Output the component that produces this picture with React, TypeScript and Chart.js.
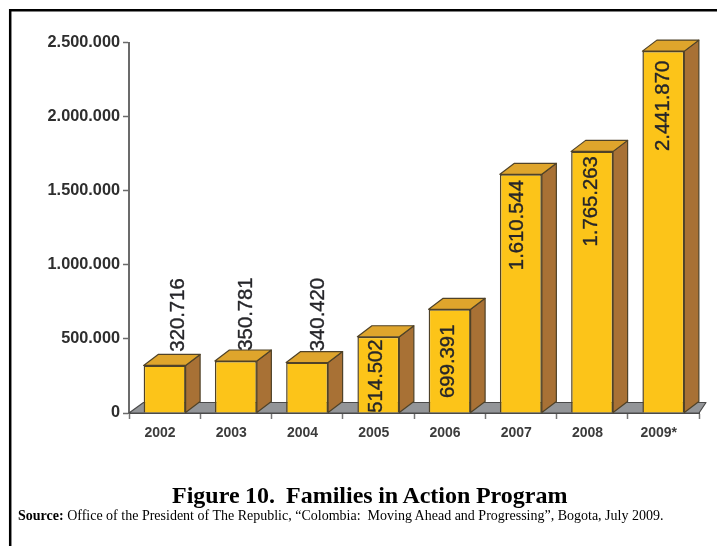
import React, { useEffect, useRef } from "react";
import { Chart, registerables } from "chart.js";

Chart.register(...registerables);

const categories = ["2002", "2003", "2004", "2005", "2006", "2007", "2008", "2009*"];
const families = [320716, 350781, 340420, 514502, 699391, 1610544, 1765263, 2441870];
const valueLabels = ["320.716", "350.781", "340.420", "514.502", "699.391", "1.610.544", "1.765.263", "2.441.870"];
const yTickValues = [0, 500000, 1000000, 1500000, 2000000, 2500000];
const yTickLabels = ["0", "500.000", "1.000.000", "1.500.000", "2.000.000", "2.500.000"];
const titleText = "Figure 10.  Families in Action Program";
const sourceLead = "Source:";
const sourceText = " Office of the President of The Republic, \u201cColombia:  Moving Ahead and Progressing\u201d, Bogota, July 2009.";

const labelShiftX = [13.4, 10.1, 11.4, -2.4, -1.1, -3.2, -1.1, -0.4];
const labelShiftY = [-50.5, -47, -48, 39.3, 51.9, 50.7, 50, 54.8];

const DEPTH_X = 14.5;
const DEPTH_Y = 11;

const poly = (ctx: CanvasRenderingContext2D, pts: number[][], fill: string, stroke: string, lw: number) => {
  ctx.beginPath();
  pts.forEach((p, i) => (i ? ctx.lineTo(p[0], p[1]) : ctx.moveTo(p[0], p[1])));
  ctx.closePath();
  ctx.fillStyle = fill;
  ctx.fill();
  if (lw > 0) {
    ctx.strokeStyle = stroke;
    ctx.lineWidth = lw;
    ctx.lineJoin = "round";
    ctx.stroke();
  }
};

const framePlugin = {
  id: "frame",
  beforeDraw(chart: any) {
    const c = chart.ctx as CanvasRenderingContext2D;
    c.save();
    c.fillStyle = "#ffffff";
    c.fillRect(0, 0, chart.width, chart.height);
    c.strokeStyle = "#000000";
    c.lineWidth = 2.5;
    c.beginPath();
    c.moveTo(10.2, chart.height);
    c.lineTo(10.2, 10.2);
    c.lineTo(chart.width, 10.2);
    c.stroke();
    c.restore();
  },
};

const floorPlugin = {
  id: "floor",
  beforeDatasetsDraw(chart: any) {
    const { left, right, bottom } = chart.chartArea;
    const c = chart.ctx as CanvasRenderingContext2D;
    c.save();
    poly(
      c,
      [
        [left, bottom],
        [left + DEPTH_X, bottom - DEPTH_Y + 0.5],
        [right + 7, bottom - DEPTH_Y + 0.5],
        [right, bottom],
      ],
      "#939598",
      "#4a4a4a",
      1.2
    );
    c.restore();
  },
};

const box3dPlugin = {
  id: "box3d",
  afterDatasetsDraw(chart: any) {
    const c = chart.ctx as CanvasRenderingContext2D;
    const meta = chart.getDatasetMeta(0);
    c.save();
    const edge = "#4f4228";
    meta.data.forEach((bar: any) => {
      const p = bar.getProps(["x", "y", "base", "width"], true);
      const l = p.x - p.width / 2;
      const r = p.x + p.width / 2;
      const t = p.y;
      const b = p.base;
      poly(c, [[r, t], [r + DEPTH_X, t - DEPTH_Y], [r + DEPTH_X, b - DEPTH_Y], [r, b]], "#a87135", edge, 1.2);
      poly(c, [[l, t], [l + DEPTH_X, t - DEPTH_Y], [r + DEPTH_X, t - DEPTH_Y], [r, t]], "#dfa52c", edge, 1.2);
    });
    c.fillStyle = "#26262a";
    c.strokeStyle = "#26262a";
    c.lineWidth = 0.35;
    c.font = "20.3px 'Liberation Sans'";
    c.textAlign = "center";
    c.textBaseline = "middle";
    meta.data.forEach((bar: any, i: number) => {
      const p = bar.getProps(["x", "y"], true);
      c.save();
      c.translate(p.x + labelShiftX[i], p.y + labelShiftY[i]);
      c.rotate(-Math.PI / 2);
      c.fillText(valueLabels[i], 0, 0);
      c.strokeText(valueLabels[i], 0, 0);
      c.restore();
    });
    c.restore();
  },
};

export default function App() {
  const ref = useRef<HTMLCanvasElement>(null);
  useEffect(() => {
    const chart = new Chart(ref.current!, {
      type: "bar",
      data: {
        labels: categories,
        datasets: [
          {
            data: families,
            backgroundColor: "#fcc419",
            borderColor: "#4f4228",
            borderWidth: 1.5,
            barPercentage: 0.589,
            categoryPercentage: 1,
          },
        ],
      },
      options: {
        animation: false,
        responsive: false,
        layout: { padding: { top: 42.5, right: 18, left: 0, bottom: 0 } },
        plugins: { legend: { display: false }, tooltip: { enabled: false }, title: { display: false } },
        scales: {
          x: {
            border: { color: "#4a4a4a", width: 2 },
            grid: { drawOnChartArea: false, drawTicks: true, tickLength: 6, tickColor: "#777777", tickWidth: 1.5 },
            ticks: {
              color: "#3c3c3c",
              font: { family: "'Liberation Sans'", size: 14, weight: "bold" },
              padding: 6,
              labelOffset: -4.6,
              maxRotation: 0,
              autoSkip: false,
            },
            afterFit(s: any) {
              s.height = 133;
            },
          },
          y: {
            min: 0,
            max: 2500000,
            border: { color: "#6b6b6b", width: 2 },
            grid: { drawOnChartArea: false, drawTicks: true, tickLength: 6, tickColor: "#6b6b6b", tickWidth: 1.5 },
            afterBuildTicks(s: any) {
              s.ticks = yTickValues.map((value) => ({ value }));
            },
            ticks: {
              color: "#2e2e2e",
              font: { family: "'Liberation Sans'", size: 16.3, weight: "bold" },
              padding: 3,
              callback: (v: any) => yTickLabels[yTickValues.indexOf(Number(v))],
            },
            afterFit(s: any) {
              s.width = 129;
              s.paddingTop = 0;
              s.paddingBottom = 0;
            },
          },
        },
      },
      plugins: [framePlugin, floorPlugin, box3dPlugin],
    } as any);
    return () => chart.destroy();
  }, []);

  return (
    <div style={{ position: "absolute", left: 0, top: 0, width: 717, height: 546, overflow: "hidden", background: "#fff" }}>
      <canvas ref={ref} width={717} height={546} style={{ position: "absolute", left: 0, top: 0, display: "block" }} />
      <div
        style={{
          position: "absolute",
          left: 172,
          top: 481,
          whiteSpace: "pre",
          fontFamily: "'Liberation Serif'",
          fontWeight: "bold",
          fontSize: 24,
          lineHeight: "28px",
          wordSpacing: "-0.5px",
          color: "#000",
        }}
      >
        {titleText}
      </div>
      <div
        style={{
          position: "absolute",
          left: 18,
          top: 508,
          whiteSpace: "pre",
          fontFamily: "'Liberation Serif'",
          fontSize: 14,
          lineHeight: "15px",
          color: "#000",
        }}
      >
        <b>{sourceLead}</b>
        {sourceText}
      </div>
    </div>
  );
}
